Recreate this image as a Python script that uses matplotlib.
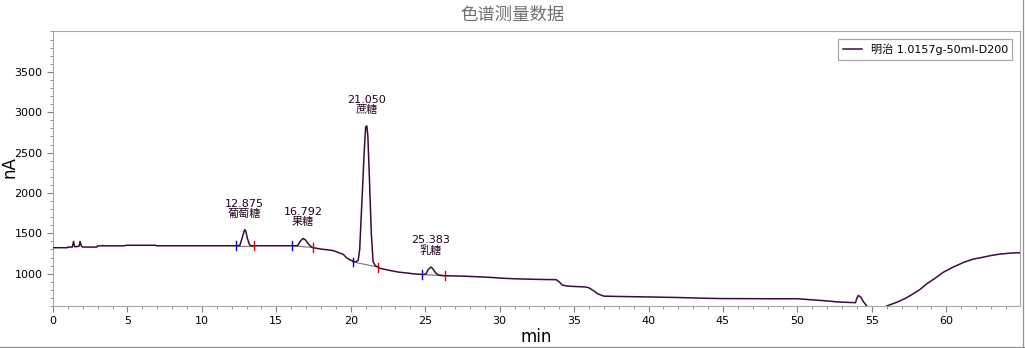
"""Chromatogram figure: 色谱测量数据"""

import matplotlib
matplotlib.use("Agg")
import matplotlib.pyplot as plt
from matplotlib.lines import Line2D
from matplotlib.ticker import MultipleLocator

plt.rcParams['font.family'] = ['DejaVu Sans', 'Noto Sans CJK SC']

# trace (min, nA)
time_min = [
    0.0, 0.95, 1.0, 1.3, 1.38, 1.45, 1.6, 1.75, 1.82, 1.9, 2.0, 2.95, 3.0,
    3.3, 3.35, 3.4, 4.8, 4.9, 6.9, 6.95, 12.3, 12.55, 12.7, 12.87, 12.95,
    13.05, 13.2, 13.3, 16.3, 16.45, 16.6, 16.79, 16.95, 17.15, 17.4, 17.6,
    18.0, 18.5, 18.85, 19.2, 19.5, 19.7, 19.95, 20.1, 20.2, 20.35, 20.5,
    20.6, 20.75, 20.9, 21.0, 21.08, 21.15, 21.25, 21.38, 21.5, 21.65, 21.82,
    22.0, 22.6, 23.2, 23.8, 24.3, 24.8, 25.05, 25.2, 25.38, 25.5, 25.7, 25.9,
    26.3, 27.0, 27.8, 28.5, 29.4, 30.1, 30.9, 32.0, 33.0, 33.8, 34.0, 34.2,
    34.5, 35.0, 35.8, 36.0, 36.3, 36.6, 37.0, 38.0, 40.0, 42.0, 44.0, 45.0,
    48.0, 50.0, 51.3, 52.0, 52.7, 53.9, 54.0, 54.1, 54.25, 54.45, 54.7, 55.2,
    55.6, 56.0, 56.7, 57.2, 57.6, 58.2, 58.7, 59.3, 59.8, 60.5, 61.2, 61.8,
    62.3, 63.0, 63.5, 64.3, 65.0,
]
signal_nA = [
    1322, 1322, 1330, 1330, 1400, 1335, 1335, 1340, 1400, 1345, 1330, 1330,
    1345, 1345, 1350, 1345, 1345, 1352, 1352, 1346, 1346, 1350, 1440, 1545,
    1530, 1440, 1360, 1346, 1346, 1350, 1400, 1437, 1420, 1370, 1325, 1318,
    1305, 1295, 1285, 1260, 1240, 1200, 1172, 1160, 1145, 1150, 1165,
    1300, 1900, 2500, 2820, 2830, 2700, 2200, 1500, 1150, 1100, 1082,
    1065, 1041, 1020, 1008, 997, 990, 995, 1050, 1082, 1065, 1010, 982,
    975, 972, 968, 962, 954, 945, 938, 932, 928, 926, 900, 860,
    848, 842, 835, 825, 790, 750, 722, 718, 712, 705, 695, 692,
    690, 690, 672, 663, 650, 641, 700, 731, 710, 650, 590, 500,
    540, 600, 648, 690, 731, 800, 876, 950, 1018, 1085, 1143, 1180,
    1198, 1225, 1240, 1255, 1260,
]

# identified peaks
peak_rt = [12.875, 16.792, 21.050, 25.383]
peak_height = [1545, 1437, 2830, 1082]
peak_name = ['葡萄糖', '果糖', '蔗糖', '乳糖']

# integration start / end marks (min, nA)
start_t = [12.28, 16.04, 20.18, 24.78]
start_y = [1346, 1346, 1145, 990]
end_t = [13.49, 17.45, 21.82, 26.3]
end_y = [1346, 1325, 1082, 975]

series_label = '明治 1.0157g-50ml-D200'

LINE_COLOR = '#3d0a3d'
GRID_GRAY = '#a8a8a8'

fig = plt.figure(figsize=(10.25, 3.48), dpi=100)
ax = fig.add_axes([0.0517, 0.1207, 0.9434, 0.7888])

ax.plot(time_min, signal_nA, color=LINE_COLOR, lw=1.1, label=series_label,
        zorder=3)

# baselines + start/end marks
for t0, y0, t1, y1 in zip(start_t, start_y, end_t, end_y):
    ax.plot([t0, t1], [y0, y1], color='#808080', lw=0.9, zorder=2)
    ax.plot([t0, t0], [y0 - 55, y0 + 55], color='#0000d0', lw=1.0, zorder=4)
    ax.plot([t1, t1], [y1 - 55, y1 + 55], color='#e00000', lw=1.0, zorder=4)

for rt, h, name in zip(peak_rt, peak_height, peak_name):
    ax.annotate(f'{rt:.3f}\n{name}', xy=(rt, h), xytext=(0, 8),
                textcoords='offset points', ha='center', va='bottom',
                fontsize=8, color='#200020', linespacing=1.0)

ax.set_xlim(0, 64.95)
ax.set_ylim(600, 4000)
ax.xaxis.set_major_locator(MultipleLocator(5))
ax.xaxis.set_minor_locator(MultipleLocator(1))
ax.yaxis.set_major_locator(MultipleLocator(500))
ax.yaxis.set_minor_locator(MultipleLocator(100))
ax.set_yticks([1000, 1500, 2000, 2500, 3000, 3500])

for sp in ax.spines.values():
    sp.set_color(GRID_GRAY)
ax.tick_params(which='major', length=4, color='#808080', labelsize=8,
               labelcolor='black')
ax.tick_params(which='minor', length=2, color='#808080')

ax.set_xlabel('min', fontsize=12, labelpad=1)
fig.text(9 / 1025, 1 - 167 / 348, 'nA', rotation=90, ha='center',
         va='center', fontsize=12)

leg = ax.legend(loc='upper right', fontsize=8, fancybox=False,
                handlelength=1.7, borderaxespad=0.7, framealpha=1)
leg.get_frame().set_edgecolor(GRID_GRAY)
leg.get_frame().set_linewidth(0.9)

fig.text(0.5, 0.957, '色谱测量数据', ha='center', va='center',
         fontsize=12.5, color='#707070')

# outer frame of the exported picture
fig.add_artist(Line2D([0, 1], [0.004, 0.004], color='#909090', lw=0.9))
fig.add_artist(Line2D([0.998, 0.998], [0, 1], color='#909090', lw=0.9))

fig.savefig('out.png', dpi=100, facecolor='white')
plt.close(fig)
